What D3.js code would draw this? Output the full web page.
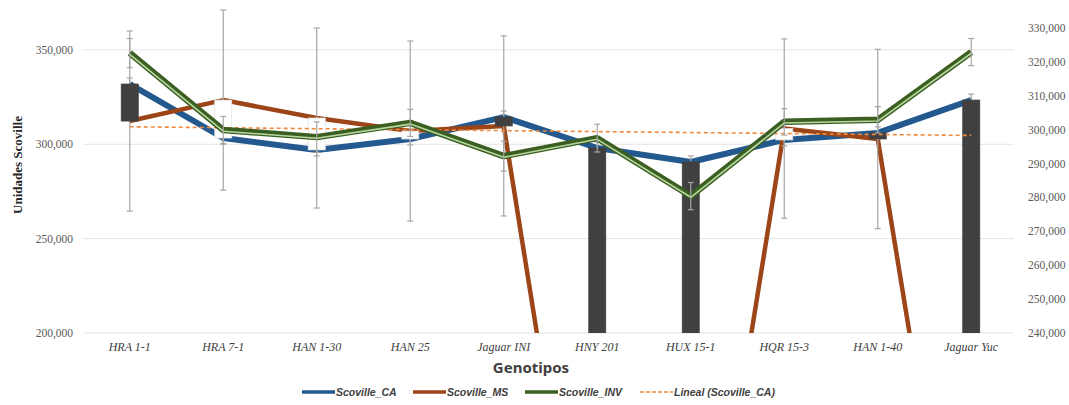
<!DOCTYPE html>
<html>
<head>
<meta charset="utf-8">
<script src="https://cdn.jsdelivr.net/npm/d3@7"></script>
<style>
  html, body { margin: 0; padding: 0; background: #fff; }
  svg { display: block; }
  .tick-l, .tick-r { font: 11.5px "Liberation Serif", serif; fill: #595959; }
  .cat { font: italic 12px "Liberation Serif", serif; fill: #404040; }
  .ytitle { font: bold 13px "Liberation Serif", serif; fill: #262626; }
  .xtitle { font: bold 15px "Noto Sans", sans-serif; fill: #404040; }
  .leg { font: italic bold 10.5px "Liberation Sans", sans-serif; fill: #404040; }
</style>
</head>
<body>
<script>
// categories and series
const genotipos = ["HRA 1-1", "HRA 7-1", "HAN 1-30", "HAN 25", "Jaguar INI",
                   "HNY 201", "HUX 15-1", "HQR 15-3", "HAN 1-40", "Jaguar Yuc"];
const scovilleCA  = [331900, 303300, 297000, 302800, 314400, 298000, 290600, 302300, 306000, 323400];
const scovilleMS  = [312300, 323400, 313900, 307000, 309700, 0, 0, 308300, 302800, 0];
const scovilleINV = [322600, 299900, 297800, 302000, 292200, 297500, 280400, 302300, 302900, 322900]; // right axis
const errCA  = [3200, 3200, 3200, 3200, 3200, 3200, 3200, 3200, 3200, 3200];
const errMS  = [47700, 47700, 47700, 47700, 47700, 47700, 47700, 47500, 47500, 47500];
const errINV = [4300, 4000, 4500, 4000, 4400, 4100, 4000, 3900, 3900, 4000];
const leftTicks  = [200000, 250000, 300000, 350000];
const rightTicks = [240000, 250000, 260000, 270000, 280000, 290000, 300000, 310000, 320000, 330000];
const legendItems = ["Scoville_CA", "Scoville_MS", "Scoville_INV", "Lineal (Scoville_CA)"];

const W = 1069, H = 405;
const plot = { left: 83, right: 1018, top: 31, bottom: 333 };

const svg = d3.select("body").append("svg").attr("width", W).attr("height", H);

const x = d3.scalePoint().domain(genotipos).range([plot.left, plot.right]).padding(0.5);
const yL = d3.scaleLinear().domain([200000, 360000]).range([plot.bottom, plot.top]);
const yR = d3.scaleLinear().domain([240000, 330000]).range([plot.bottom, 28]);
const fmt = d3.format(",");

svg.append("defs").append("clipPath").attr("id", "clip")
  .append("rect").attr("x", 0).attr("y", -200).attr("width", W).attr("height", plot.bottom + 200);

// gridlines
svg.append("g").selectAll("line").data(leftTicks).join("line")
  .attr("x1", plot.left).attr("x2", 1014)
  .attr("y1", d => yL(d)).attr("y2", d => yL(d))
  .attr("stroke", "#e4e4e4").attr("stroke-width", 1);

// axis labels
svg.append("g").selectAll("text").data(leftTicks).join("text")
  .attr("class", "tick-l").attr("x", 73).attr("y", d => yL(d)).attr("dy", "0.35em")
  .attr("text-anchor", "end").text(fmt);
svg.append("g").selectAll("text").data(rightTicks).join("text")
  .attr("class", "tick-r").attr("x", 1028).attr("y", d => yR(d)).attr("dy", "0.35em")
  .text(fmt);
svg.append("g").selectAll("text").data(genotipos).join("text")
  .attr("class", "cat").attr("x", d => x(d)).attr("y", 347).attr("dy", "0.35em")
  .attr("text-anchor", "middle").text(d => d);

svg.append("text").attr("class", "ytitle")
  .attr("transform", `translate(22,${165}) rotate(-90)`)
  .attr("text-anchor", "middle").text("Unidades Scoville");
svg.append("text").attr("class", "xtitle")
  .attr("x", 531).attr("y", 368).attr("dy", "0.35em").attr("text-anchor", "middle").text("Genotipos");

const g = svg.append("g").attr("clip-path", "url(#clip)");
const line = (arr, y) => d3.line().x((d, i) => x(genotipos[i])).y(d => y(d))(arr);

// primary lines
g.append("path").attr("d", line(scovilleCA, yL)).attr("fill", "none")
  .attr("stroke", "#24598f").attr("stroke-width", 6).attr("stroke-linejoin", "round");
g.append("path").attr("d", line(scovilleMS, yL)).attr("fill", "none")
  .attr("stroke", "#9c4518").attr("stroke-width", 4.5).attr("stroke-linejoin", "round");

// error bars
function errorBars(vals, errs, y) {
  const eg = g.append("g").attr("stroke", "#a6a6a6").attr("stroke-width", 1.2);
  vals.forEach((v, i) => {
    const cx = x(genotipos[i]), y1 = y(v + errs[i]), y2 = y(v - errs[i]);
    eg.append("line").attr("x1", cx).attr("x2", cx).attr("y1", y1).attr("y2", y2);
    eg.append("line").attr("x1", cx - 3).attr("x2", cx + 3).attr("y1", y1).attr("y2", y1);
    eg.append("line").attr("x1", cx - 3).attr("x2", cx + 3).attr("y1", y2).attr("y2", y2);
  });
}
errorBars(scovilleMS, errMS, yL);
errorBars(scovilleCA, errCA, yL);

// up-down bars between CA and MS
g.append("g").selectAll("rect").data(genotipos).join("rect")
  .attr("x", d => x(d) - 8.5).attr("width", 17)
  .attr("y", (d, i) => Math.min(yL(scovilleCA[i]), yL(scovilleMS[i])))
  .attr("height", (d, i) => Math.abs(yL(scovilleCA[i]) - yL(scovilleMS[i])))
  .attr("fill", (d, i) => scovilleMS[i] > scovilleCA[i] ? "#ffffff" : "#404040")
  .attr("stroke", (d, i) => scovilleMS[i] > scovilleCA[i] ? "#e0e0e0" : "#404040")
  .attr("stroke-width", 0.8);

// linear trend of CA
const idx = d3.range(scovilleCA.length);
const mx = d3.mean(idx), my = d3.mean(scovilleCA);
const slope = d3.sum(idx, i => (i - mx) * (scovilleCA[i] - my)) / d3.sum(idx, i => (i - mx) ** 2);
const trend = idx.map(i => my + slope * (i - mx));
g.append("path").attr("d", line(trend, yL)).attr("fill", "none")
  .attr("stroke", "#f08a3c").attr("stroke-width", 1.6).attr("stroke-dasharray", "4,3");

// secondary line (INV)
g.append("path").attr("d", line(scovilleINV, yR)).attr("fill", "none")
  .attr("stroke", "#3b5e21").attr("stroke-width", 6.5).attr("stroke-linejoin", "round");
g.append("path").attr("d", line(scovilleINV, yR)).attr("fill", "none")
  .attr("transform", "translate(0,1.2)")
  .attr("stroke", "#b7d7a0").attr("stroke-width", 1.6).attr("stroke-linejoin", "round");
errorBars(scovilleINV, errINV, yR);

// legend
const legX = [302, 413, 525, 640];
const legColor = ["#24598f", "#9c4518", "#3b5e21", "#f08a3c"];
const leg = svg.append("g");
legendItems.forEach((t, i) => {
  const ln = leg.append("line").attr("x1", legX[i]).attr("x2", legX[i] + 33)
    .attr("y1", 392).attr("y2", 392).attr("stroke", legColor[i]);
  if (i === 3) ln.attr("stroke-width", 1.5).attr("stroke-dasharray", "4,2");
  else ln.attr("stroke-width", 3.5);
  leg.append("text").attr("class", "leg").attr("x", legX[i] + 34).attr("y", 392)
    .attr("dy", "0.35em").text(t);
});
</script>
</body>
</html>
